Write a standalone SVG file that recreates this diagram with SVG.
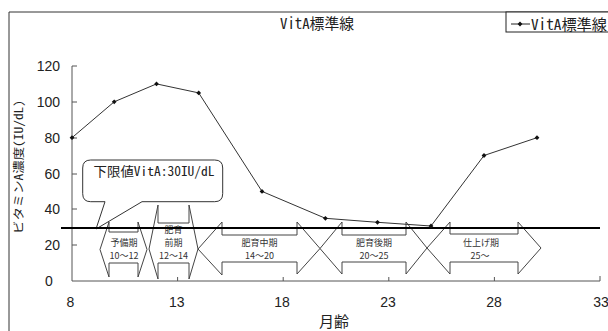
<svg xmlns="http://www.w3.org/2000/svg" width="608" height="331" viewBox="0 0 608 331">
<defs>
<style>
.num{font-family:"Liberation Sans",Arial,sans-serif;font-size:14px;fill:#222}
.jp{font-family:"Noto Sans Mono CJK JP","Noto Sans CJK JP",sans-serif;fill:#222}
.lbl{font-family:"Noto Sans CJK JP",sans-serif;font-size:9px;fill:#333;text-anchor:middle}
.arrow{fill:none;stroke:#444;stroke-width:1;stroke-linejoin:miter}
.axis{stroke:#555;stroke-width:1;fill:none}
</style>
<marker id="dia" markerUnits="userSpaceOnUse" markerWidth="6" markerHeight="6" refX="3" refY="3" viewBox="0 0 6 6" overflow="visible">
<path d="M3,0.6 L5.4,3 L3,5.4 L0.6,3 Z" fill="#111"/>
</marker>
</defs>
<rect x="0" y="0" width="608" height="331" fill="#fff"/>
<path d="M9,331 V12 H608" fill="none" stroke="#333" stroke-width="1"/>
<text class="jp" x="280" y="29" font-size="15" textLength="74" lengthAdjust="spacingAndGlyphs">VitA標準線</text>
<g id="legend">
<rect x="506" y="12" width="110" height="20" fill="#fff" stroke="#222" stroke-width="1"/>
<line x1="511" y1="24" x2="530" y2="24" stroke="#222" stroke-width="1"/>
<path d="M520,21.6 L522.4,24 L520,26.4 L517.6,24 Z" fill="#111"/>
<text class="jp" x="531" y="29.5" font-size="15" textLength="76" lengthAdjust="spacingAndGlyphs">VitA標準線</text>
</g>
<g id="axes">
<path class="axis" d="M72,66 V281 H600"/>
<path class="axis" d="M72,66 H77 M72,102 H77 M72,138 H77 M72,174 H77 M72,209 H77 M72,245 H77"/>
<path class="axis" d="M177.6,281 V277 M283.2,281 V277 M388.8,281 V277 M494.4,281 V277 M600,281 V276"/>
<text class="num" x="60" y="71" text-anchor="end">120</text>
<text class="num" x="60" y="107" text-anchor="end">100</text>
<text class="num" x="60" y="143" text-anchor="end">80</text>
<text class="num" x="60" y="179" text-anchor="end">60</text>
<text class="num" x="60" y="214" text-anchor="end">40</text>
<text class="num" x="60" y="250" text-anchor="end">20</text>
<text class="num" x="49" y="286" text-anchor="middle">0</text>
<text class="num" x="70.5" y="306.5" text-anchor="middle">8</text>
<text class="num" x="176.7" y="306.5" text-anchor="middle">13</text>
<text class="num" x="282" y="306.5" text-anchor="middle">18</text>
<text class="num" x="388" y="306.5" text-anchor="middle">23</text>
<text class="num" x="494" y="306.5" text-anchor="middle">28</text>
<text class="num" x="601" y="306.5" text-anchor="middle">33</text>
<text class="jp" x="334" y="327" font-size="15" text-anchor="middle">月齢</text>
<text class="jp" x="0" y="0" font-size="11.5" text-anchor="middle" textLength="134" lengthAdjust="spacingAndGlyphs" transform="translate(22.5,167) rotate(-90)">ビタミンA濃度(IU/dL)</text>
</g>
<g id="arrow1">
<polygon class="arrow" points="100,249.5 109,222 109,232 138,232 138,222 147,249.5 138,277 138,263 109,263 109,277"/>
<text class="lbl" x="124" y="246">予備期</text>
<text class="lbl" x="124" y="259">10～12</text>
</g>
<g id="arrow2">
<polygon class="arrow" points="149,249 158,205 158,223 189,223 189,205 198,249 189,279 189,263 158,263 158,279"/>
<text class="lbl" x="173.5" y="233">肥育</text>
<text class="lbl" x="173.5" y="246">前期</text>
<text class="lbl" x="173.5" y="259">12～14</text>
</g>
<g id="arrow3">
<polygon class="arrow" points="198,249 222,222 222,235 297,235 297,222 320,248.5 297,274 297,262 222,262 222,275"/>
<text class="lbl" x="259.5" y="245.5">肥育中期</text>
<text class="lbl" x="259.5" y="258.5">14～20</text>
</g>
<g id="arrow4">
<polygon class="arrow" points="320,248.5 342,222 342,235 406,235 406,222 427,248 406,274 406,262 342,262 342,274"/>
<text class="lbl" x="374" y="245.5">肥育後期</text>
<text class="lbl" x="374" y="258.5">20～25</text>
</g>
<g id="arrow5">
<polygon class="arrow" points="427,248 450,222 450,234 518,234 518,222 541,248 518,274 518,262 450,262 450,274"/>
<text class="lbl" x="481" y="245.5">仕上げ期</text>
<text class="lbl" x="480" y="258.5">25～</text>
</g>
<g id="callout">
<path d="M90.7,160 H214.7 Q222.7,160 222.7,168 V193.7 Q222.7,201.7 214.7,201.7 H142 L96,229 L105,201.7 H90.7 Q82.7,201.7 82.7,193.7 V168 Q82.7,160 90.7,160 Z" fill="#fff" stroke="#333" stroke-width="1"/>
<text class="jp" x="93.5" y="176" font-size="13" textLength="121" lengthAdjust="spacingAndGlyphs">下限値VitA:30IU/dL</text>
</g>
<g id="connectors">
<line x1="61" y1="228" x2="600" y2="228" stroke="#000" stroke-width="2.2"/>
<polyline points="72,137.7 114.2,101.8 156.5,83.9 198.7,92.9 262,191.4 325.4,218.3 377.5,222.3 431,226 484,155.5 537,137.7" fill="none" stroke="#333" stroke-width="1" marker-start="url(#dia)" marker-mid="url(#dia)" marker-end="url(#dia)"/>
</g>
</svg>
